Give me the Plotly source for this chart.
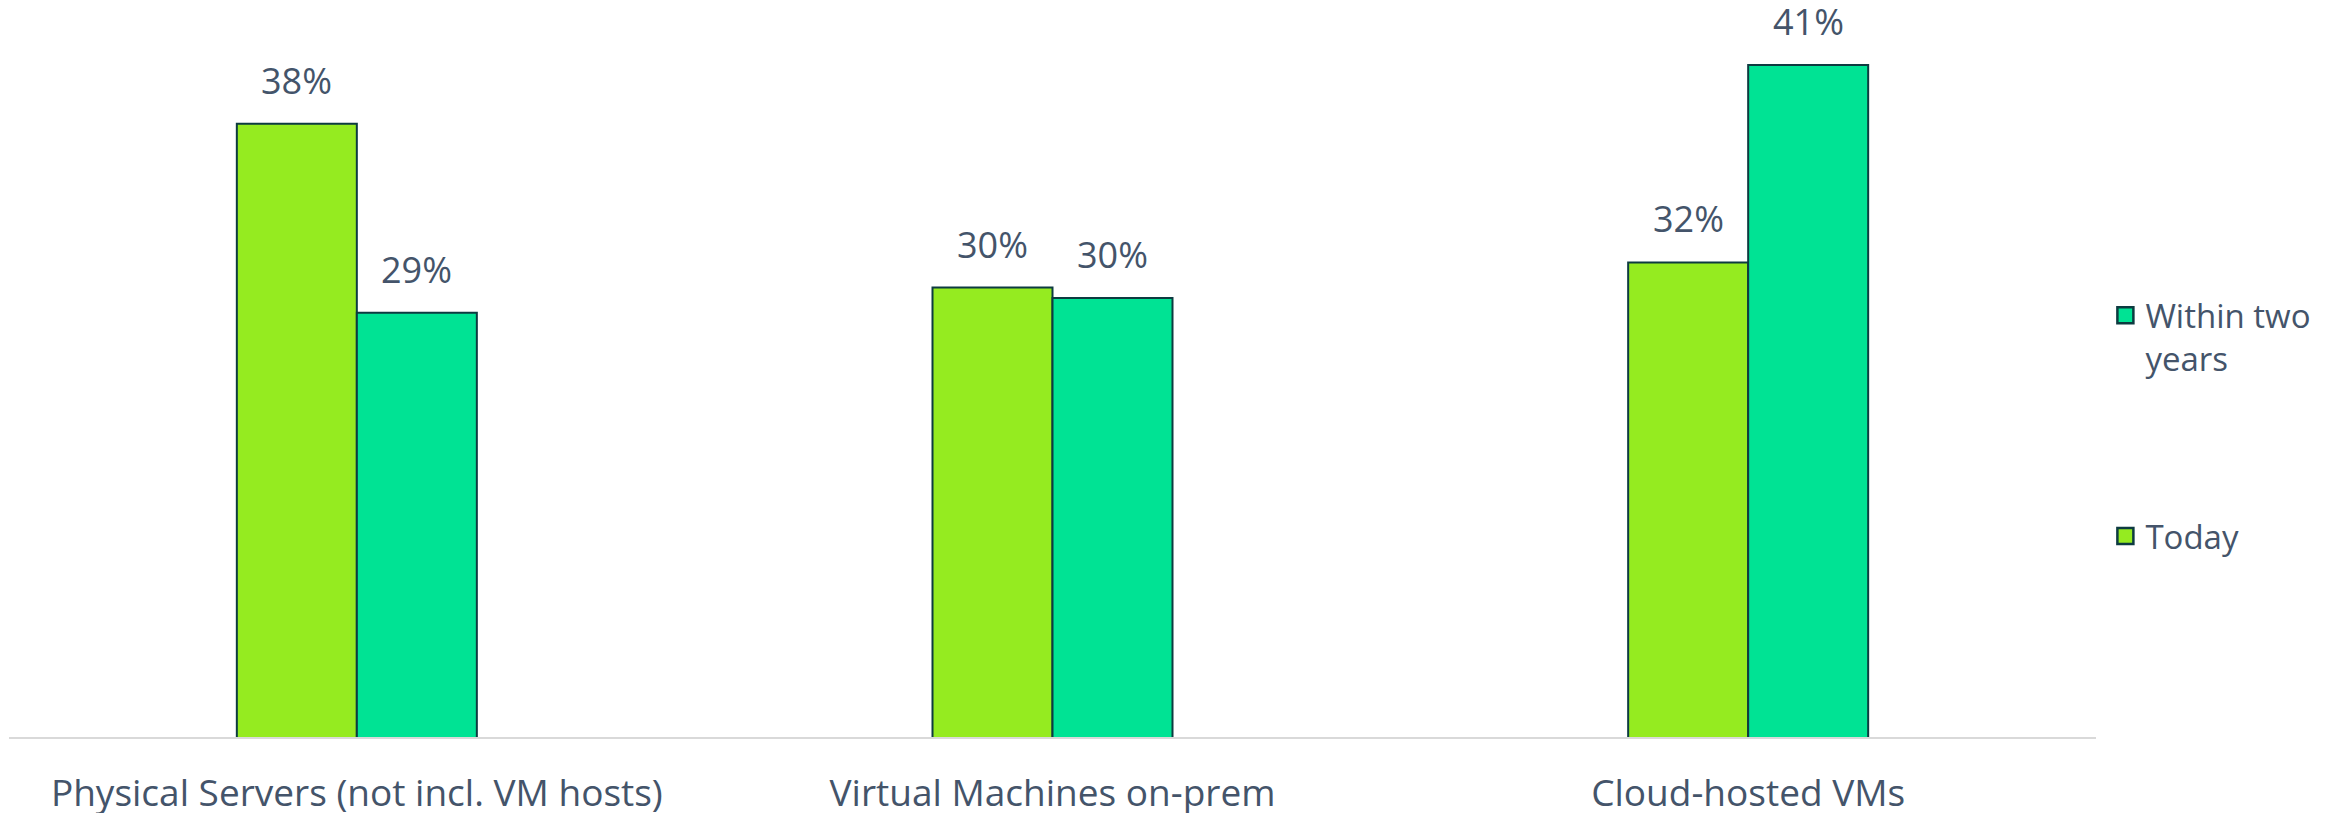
import plotly.graph_objects as go

categories = ["Physical Servers (not incl. VM hosts)", "Virtual Machines on-prem", "Cloud-hosted VMs"]
today = [38.2, 30.4, 31.6]
within_two_years = [29.2, 29.9, 41.0]
series_names = ["Today", "Within two<br>years"]

TEXT = "#44546A"
EDGE = "#0D3B40"
C_TODAY = "#95EB20"
C_WITHIN = "#00E394"
FONT = "Open Sans"

series = [(series_names[0], today, C_TODAY), (series_names[1], within_two_years, C_WITHIN)]

fig = go.Figure()
for name, vals, col in series:
    fig.add_trace(go.Bar(
        x=categories, y=vals, name=name, showlegend=False,
        marker=dict(color=col, line=dict(color=EDGE, width=2)),
    ))

# legend proxies (legend lists "Within two years" first)
for name, vals, col in reversed(series):
    fig.add_trace(go.Scatter(
        x=[None], y=[None], mode="markers", name=name, legendgroup=name,
        marker=dict(symbol="square", size=16, color=col, line=dict(color=EDGE, width=2.5)),
    ))

# value labels
for vals, shift in [(today, -60), (within_two_years, 60)]:
    for c, v in zip(categories, vals):
        fig.add_annotation(x=c, y=v, text=f"{round(v)}%", showarrow=False,
                           xshift=shift, yshift=17, yanchor="bottom",
                           font=dict(family=FONT, size=36, color=TEXT))

fig.update_layout(
    width=2333, height=805,
    margin=dict(l=1, r=245, t=15, b=76, autoexpand=False),
    paper_bgcolor="white", plot_bgcolor="white",
    barmode="group", bargap=0.655, bargroupgap=0,
    font=dict(family=FONT, color=TEXT),
    legend=dict(x=1.0045, xanchor="left", y=0.63, yanchor="top",
                traceorder="grouped", tracegroupgap=132, valign="top",
                font=dict(family=FONT, size=33, color=TEXT)),
    xaxis=dict(range=[-0.5, 2.5], showline=True, linecolor="#D9D9D9", linewidth=2,
               ticks="outside", ticklen=23, tickcolor="rgba(0,0,0,0)",
               tickfont=dict(family=FONT, size=37, color=TEXT), showgrid=False, fixedrange=True),
    yaxis=dict(range=[9, 43], visible=False, showgrid=False, zeroline=False),
)

fig.write_html("out.html")
